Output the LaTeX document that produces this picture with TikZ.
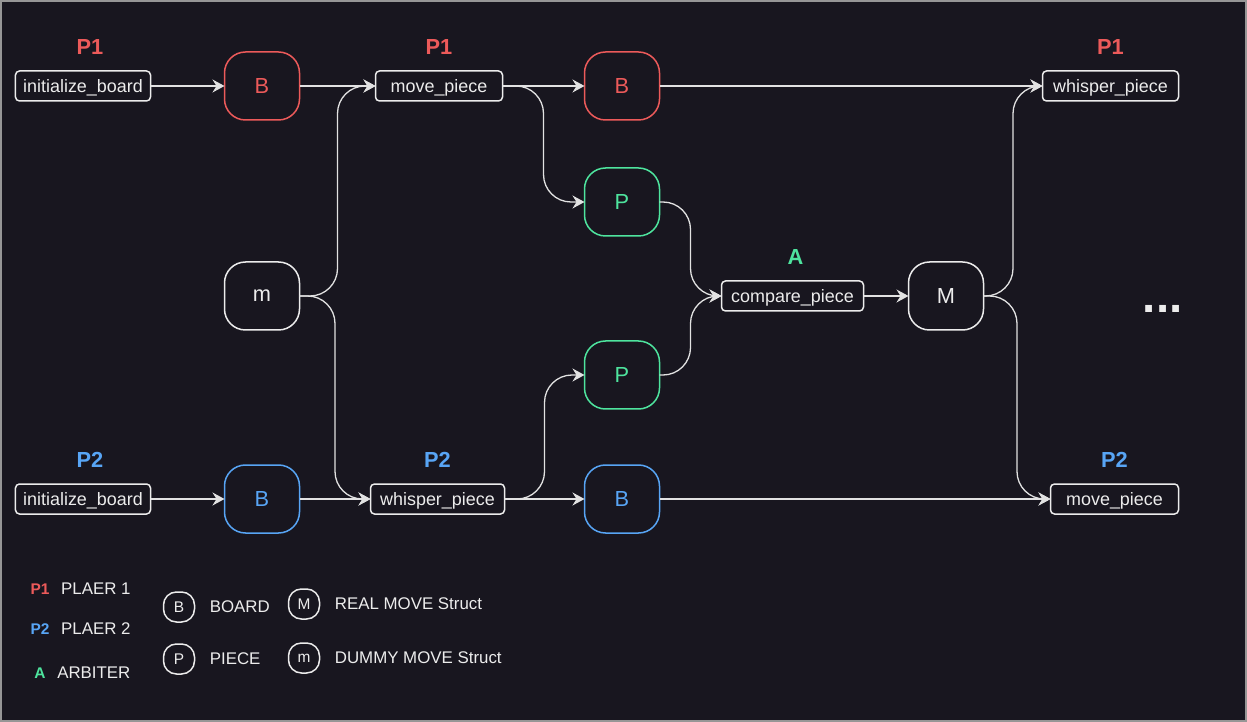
\documentclass[tikz,border=0pt]{standalone}
\usepackage{fontspec}
\setmainfont{Liberation Sans}
\usetikzlibrary{positioning,arrows.meta,calc}
\definecolor{bgdark}{RGB}{24,22,31}
\definecolor{frame}{RGB}{150,150,150}
\definecolor{ink}{RGB}{236,236,236}
\definecolor{wire}{RGB}{226,226,226}
\definecolor{pone}{RGB}{236,90,90}
\definecolor{ptwo}{RGB}{88,165,245}
\definecolor{arb}{RGB}{78,228,158}

\begin{document}
\begin{tikzpicture}[auto, node distance=0.5cm, >={Stealth[length=0.24cm,width=0.26cm,inset=0.08cm]}]
% Definition of blocks:
\tikzset{%
  block/.style    = {draw=ink, line width=0.03cm, rectangle, rounded corners=0.08cm, minimum height=0.6cm, inner sep=0pt, outer sep=0pt, text depth=0pt, text=ink, font=\fontsize{10.2}{12}\selectfont},
  token/.style    = {draw=ink, line width=0.03cm, rectangle, rounded corners=0.42cm, minimum width=1.5cm, minimum height=1.36cm, outer sep=0pt, text=ink, font=\fontsize{12.4}{14}\selectfont},
  owner/.style    = {inner sep=0pt, font=\fontsize{12.4}{14}\selectfont\bfseries},
  legtag/.style   = {inner sep=0pt, font=\fontsize{8.8}{10}\selectfont\bfseries},
  legtoken/.style = {draw=ink, line width=0.03cm, rectangle, rounded corners=0.26cm, minimum width=0.62cm, minimum height=0.6cm, inner sep=0pt, outer sep=0pt, text=ink, font=\fontsize{8.8}{10}\selectfont},
  legtext/.style  = {inner sep=0pt, text=ink, font=\fontsize{9.6}{11}\selectfont},
  link/.style     = {->, draw=wire, line width=0.026cm},
  curvy/.style    = {link, rounded corners=0.55cm}
}

% background
\useasboundingbox (-1.66,1.72) rectangle (23.28,-12.72);
\draw[fill=bgdark, draw=frame, line width=0.08cm] (-1.66,1.72) rectangle (23.28,-12.72);

% player 1 row
\draw
	node [block, minimum width=2.7cm] (Init1) {initialize\_board}
	node [token, draw=pone, text=pone, right=1.48 of Init1] (BoardA) {B}
	node [block, minimum width=2.54cm, right=1.52 of BoardA] (MovA) {move\_piece}
	node [token, draw=pone, text=pone, right=1.64 of MovA] (BoardB) {B}
	node [block, minimum width=2.72cm, right=7.66 of BoardB] (WhisA) {whisper\_piece};

% middle
\draw
	node [token, draw=arb, text=arb, below=0.96 of BoardB] (PieceA) {P}
	node [token, draw=arb, text=arb, below=2.1 of PieceA] (PieceB) {P}
	node [token, below=2.84 of BoardA] (Dummy) {m}
	node [block, minimum width=2.84cm, right=8.44 of Dummy] (Cmp) {compare\_piece}
	node [token, right=0.9 of Cmp] (Real) {M}
	node [inner sep=0pt, text=ink, font=\fontsize{27}{30}\selectfont\bfseries, right=3.18 of Real, yshift=-0.25cm] (More) {...};

% player 2 row
\draw
	node [block, minimum width=2.7cm, below=7.66 of Init1] (Init2) {initialize\_board}
	node [token, draw=ptwo, text=ptwo, right=1.48 of Init2] (BoardC) {B}
	node [block, minimum width=2.68cm, right=1.42 of BoardC] (WhisB) {whisper\_piece}
	node [token, draw=ptwo, text=ptwo, right=1.6 of WhisB] (BoardD) {B}
	node [block, minimum width=2.56cm, right=7.82 of BoardD] (MovB) {move\_piece};

% owners
\draw
	node [owner, text=pone, above=0.32 of Init1, xshift=0.14cm] (OwnA) {P1}
	node [owner, text=pone, above=0.32 of MovA] (OwnB) {P1}
	node [owner, text=pone, above=0.32 of WhisA] (OwnC) {P1}
	node [owner, text=arb, above=0.32 of Cmp, xshift=0.06cm] (OwnD) {A}
	node [owner, text=ptwo, above=0.32 of Init2, xshift=0.14cm] (OwnE) {P2}
	node [owner, text=ptwo, above=0.32 of WhisB] (OwnF) {P2}
	node [owner, text=ptwo, above=0.32 of MovB] (OwnG) {P2};

% bends of the curved links
\coordinate (JoinA) at ($(Dummy.east)!0.5!(MovA.west)$);
\coordinate (JoinB) at ($(Dummy.east)!0.5!(WhisB.west)$);
\coordinate (JoinC) at ($(MovA.east)!0.5!(PieceA.west)$);
\coordinate (JoinD) at ($(WhisB.east)!0.5!(PieceB.west)$);
\coordinate (JoinE) at ($(PieceA.east)!0.5!(Cmp.west)$);
\coordinate (JoinF) at ($(PieceB.east)!0.5!(Cmp.west)$);
\coordinate (JoinG) at ($(Real.east)!0.5!(WhisA.west)$);
\coordinate (JoinH) at ($(Real.east)!0.5!(MovB.west)$);

\draw[link](Init1) -- (BoardA);
\draw[link](BoardA) -- (MovA);
\draw[link](MovA) -- (BoardB);
\draw[link](BoardB) -- (WhisA);
\draw[curvy](Dummy.east) -| (JoinA |- MovA.west) -- (MovA.west);
\draw[curvy](Dummy.east) -| (JoinB |- WhisB.west) -- (WhisB.west);
\draw[curvy](MovA.east) -| (JoinC |- PieceA.west) -- (PieceA.west);
\draw[curvy](WhisB.east) -| (JoinD |- PieceB.west) -- (PieceB.west);
\draw[curvy](PieceA.east) -| (JoinE |- Cmp.west) -- (Cmp.west);
\draw[curvy](PieceB.east) -| (JoinF |- Cmp.west) -- (Cmp.west);
\draw[link](Cmp) -- (Real);
\draw[curvy](Real.east) -| (JoinG |- WhisA.west) -- (WhisA.west);
\draw[curvy](Real.east) -| (JoinH |- MovB.west) -- (MovB.west);
\draw[link](Init2) -- (BoardC);
\draw[link](BoardC) -- (WhisB);
\draw[link](WhisB) -- (BoardD);
\draw[link](BoardD) -- (MovB);

% legend
\draw
	node [legtag, text=pone] at (-0.86,-10.06) (KeyA) {P1}
	node [legtext, right=0.22 of KeyA] (KeyAtxt) {PLAER 1}
	node [legtag, text=ptwo] at (-0.86,-10.86) (KeyB) {P2}
	node [legtext, right=0.22 of KeyB] (KeyBtxt) {PLAER 2}
	node [legtag, text=arb] at (-0.86,-11.74) (KeyC) {A}
	node [legtext, right=0.22 of KeyC] (KeyCtxt) {ARBITER}
	node [legtoken] at (1.92,-10.42) (KeyD) {B}
	node [legtext, right=0.3 of KeyD] (KeyDtxt) {BOARD}
	node [legtoken] at (1.92,-11.46) (KeyE) {P}
	node [legtext, right=0.3 of KeyE] (KeyEtxt) {PIECE}
	node [legtoken] at (4.42,-10.36) (KeyF) {M}
	node [legtext, right=0.3 of KeyF] (KeyFtxt) {REAL MOVE Struct}
	node [legtoken] at (4.42,-11.44) (KeyG) {m}
	node [legtext, right=0.3 of KeyG] (KeyGtxt) {DUMMY MOVE Struct};

\end{tikzpicture}
\end{document}
